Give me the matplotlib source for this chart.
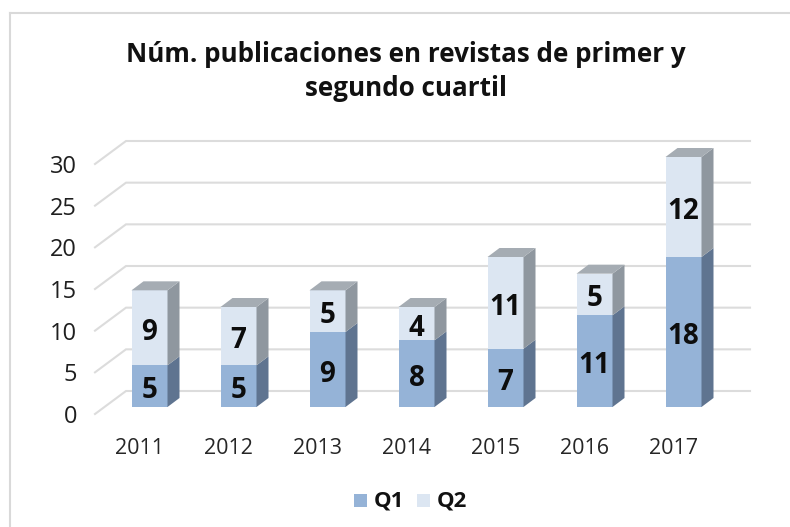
import matplotlib
matplotlib.use("Agg")
import matplotlib.pyplot as plt
from matplotlib.patches import Polygon

years = ["2011", "2012", "2013", "2014", "2015", "2016", "2017"]
q1 = [5, 5, 9, 8, 7, 11, 18]
q2 = [9, 7, 5, 4, 11, 5, 12]
yticks = [0, 5, 10, 15, 20, 25, 30]

W, H = 790, 527
plt.rcParams['font.family'] = ['Open Sans', 'DejaVu Sans']

# pixel scale of the picture
px_per_cat = 89.0
px_per_val = 250 / 30
x0_px, y0_px = 149.5, 407.0

# fake 3d offsets, in data units
bar_w = 36 / px_per_cat
dep_x = 12 / px_per_cat
dep_y = 9 / px_per_val

fig = plt.figure(figsize=(W / 100, H / 100), dpi=100)
ax = fig.add_axes([0, 0, 1, 1])
ax.set_xlim(-x0_px / px_per_cat, (W - x0_px) / px_per_cat)
ax.set_ylim(-(H - y0_px) / px_per_val, y0_px / px_per_val)
ax.axis("off")

# grid on back wall and side wall
gx_front = (95 - x0_px) / px_per_cat
gx_back = (126 - x0_px) / px_per_cat
gx_end = (750 - x0_px) / px_per_cat
front_dy = -7 / px_per_val
back_dy = 16 / px_per_val
tick_dy = -3 / px_per_val
for v in yticks:
    ax.plot([gx_front, gx_back, gx_end], [v + front_dy, v + back_dy, v + back_dy],
            color="#dcdcdc", lw=1.5, zorder=1, solid_joinstyle="miter")
    ax.text((77 - x0_px) / px_per_cat, v + front_dy + tick_dy, str(v), ha="right", va="center",
            fontsize=17, color="#1f1f1f")


def box(x, bottom, height, front, side, top=None):
    left = x - bar_w / 2
    right = x + bar_w / 2
    upper = bottom + height
    ax.add_patch(Polygon([(left, bottom), (right, bottom), (right, upper), (left, upper)],
                         facecolor=front, edgecolor="none", zorder=3))
    ax.add_patch(Polygon([(right, bottom), (right + dep_x, bottom + dep_y),
                          (right + dep_x, upper + dep_y), (right, upper)],
                         facecolor=side, edgecolor="none", zorder=3))
    if top:
        ax.add_patch(Polygon([(left, upper), (right, upper), (right + dep_x, upper + dep_y),
                              (left + dep_x, upper + dep_y)],
                             facecolor=top, edgecolor="none", zorder=3))


lab_dy = -4.5 / px_per_val
for i, year in enumerate(years):
    box(i, 0, q1[i], "#95b3d7", "#5f7490")
    box(i, q1[i], q2[i], "#dce6f2", "#8f979f", "#a5acb3")
    ax.text(i, q1[i] / 2 + lab_dy, str(q1[i]), ha="center", va="center", fontsize=20,
            fontweight="bold", color="#0d0d0d", zorder=4)
    ax.text(i, q1[i] + q2[i] / 2 + lab_dy, str(q2[i]), ha="center", va="center", fontsize=20,
            fontweight="bold", color="#0d0d0d", zorder=4)
    ax.text(i - 0.11, -(448 - y0_px) / px_per_val, year, ha="center", va="center",
            fontsize=15.5, color="#262626")

# title
ax.text((406 - x0_px) / px_per_cat, (y0_px - 54) / px_per_val, "Núm. publicaciones en revistas de primer y",
        ha="center", va="center", fontsize=18.7, fontweight="bold", color="#111111")
ax.text((406 - x0_px) / px_per_cat, (y0_px - 88) / px_per_val, "segundo cuartil",
        ha="center", va="center", fontsize=18.7, fontweight="bold", color="#111111")

# legend
leg = [("Q1", "#95b3d7", 354, 374), ("Q2", "#dce6f2", 417, 437)]
for name, col, sq_px, txt_px in leg:
    xa = (sq_px - x0_px) / px_per_cat
    xb = (sq_px + 13 - x0_px) / px_per_cat
    ya = (y0_px - 507) / px_per_val
    yb = (y0_px - 494) / px_per_val
    ax.add_patch(Polygon([(xa, ya), (xb, ya), (xb, yb), (xa, yb)], facecolor=col, edgecolor="none"))
    ax.text((txt_px - x0_px) / px_per_cat, (y0_px - 501) / px_per_val, name, ha="left", va="center",
            fontsize=16, fontweight="bold", color="#111111")

# chart frame, left and top only are visible in the crop
fx = (9.5 - x0_px) / px_per_cat
fy = (y0_px - 12.5) / px_per_val
ax.plot([fx, fx], [ax.get_ylim()[0], fy], color="#d9d9d9", lw=1.5, zorder=1)
ax.plot([fx, ax.get_xlim()[1]], [fy, fy], color="#d9d9d9", lw=1.5, zorder=1)

fig.savefig("out.png", dpi=100)
